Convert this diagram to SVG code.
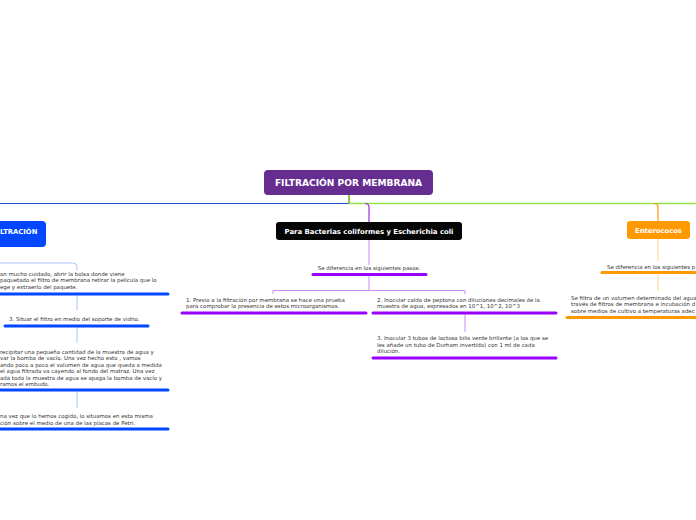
<svg xmlns="http://www.w3.org/2000/svg" width="696" height="520" viewBox="0 0 696 520">
<style>
.t{font-family:"DejaVu Sans","Liberation Sans",sans-serif;font-size:5.45px;fill:#333}
.b{font-family:"DejaVu Sans","Liberation Sans",sans-serif;font-weight:bold;fill:#fff}
.cb{fill:none;stroke:#a9c2ff;stroke-width:1}
.cp{fill:none;stroke:#c98cf7;stroke-width:1}
.co{fill:none;stroke:#ffcf8f;stroke-width:1}
.ub{stroke:#0047ff;stroke-width:3;stroke-linecap:round}
.up{stroke:#9900ff;stroke-width:3;stroke-linecap:round}
.uo{stroke:#ff9900;stroke-width:3;stroke-linecap:round}
</style>
<rect width="696" height="520" fill="#fff"/>
<g id="connectors">
<line x1="0" y1="203.5" x2="349" y2="203.5" stroke="#1d4fd6" stroke-width="1"/>
<line x1="349" y1="203.5" x2="696" y2="203.5" stroke="#95e34a" stroke-width="1.5"/>
<line x1="349" y1="195" x2="349" y2="203.5" stroke="#8cc63f" stroke-width="2"/>
<path d="M365,203.5 Q369,203.5 369,207 V222" fill="none" stroke="#9b30e0" stroke-width="1.2"/>
<path d="M654,203.5 Q658,203.5 658,207 V221" fill="none" stroke="#ff9900" stroke-width="1.2"/>
<path class="cp" d="M369,240 V265"/>
<path class="cp" d="M369,275 V290.5"/>
<path class="cp" d="M273,294 V290.5 H465 V294"/>
<path class="cp" d="M465,313 V332"/>
<path class="co" d="M658,239 V261"/>
<path class="co" d="M658,273 V291"/>
<path class="cb" d="M0,263 H73 Q77,263 77,267 V270"/>
<path class="cb" d="M77,294 V310"/>
<path class="cb" d="M77,326 V343"/>
<path class="cb" d="M77,390 V408"/>
</g>
<g id="root">
<rect x="264" y="170" width="169" height="25" rx="4" fill="#662d91"/>
<text class="b" x="348.5" y="186" font-size="9.1" text-anchor="middle">FILTRACIÓN POR MEMBRANA</text>
</g>
<g id="filtracion">
<rect x="-10" y="221" width="56" height="26" rx="4" fill="#0047ff"/>
<text class="b" x="0" y="233.5" font-size="6.8">LTRACIÓN</text>
</g>
<g id="l1">
<text class="t" x="0" y="275.5">on mucho cuidado, abrir la bolsa donde viene</text>
<text class="t" x="0" y="282">paquetado el filtro de membrana retirar la película que lo</text>
<text class="t" x="0" y="288.5">ege y extraerlo del paquete.</text>
<line class="ub" x1="0" y1="294" x2="168" y2="294"/>
</g>
<g id="l2">
<text class="t" x="9" y="321">3. Situar el filtro en medio del soporte de vidrio.</text>
<line class="ub" x1="5" y1="326" x2="148" y2="326"/>
</g>
<g id="l3">
<text class="t" x="0" y="353.5">recipitar una pequeña cantidad de la muestra de agua y</text>
<text class="t" x="0" y="360">var la bomba de vacío. Una vez hecho esto , vamos</text>
<text class="t" x="0" y="366.5">ando poco a poco el volumen de agua que queda a medida</text>
<text class="t" x="0" y="373">el agua filtrada va cayendo al fondo del matraz. Una vez</text>
<text class="t" x="0" y="379.5">ada toda la muestra de agua se apaga la bomba de vacío y</text>
<text class="t" x="0" y="386">ramos el embudo.</text>
<line class="ub" x1="0" y1="390" x2="168" y2="390"/>
</g>
<g id="l4">
<text class="t" x="0" y="418">na vez que lo hemos cogido, lo situamos en esta misma</text>
<text class="t" x="0" y="424.5">ción sobre el medio de una de las placas de Petri.</text>
<line class="ub" x1="0" y1="429" x2="168" y2="429"/>
</g>
<g id="bacterias">
<rect x="276" y="222" width="186" height="18" rx="3" fill="#050505"/>
<text class="b" x="369" y="233.5" font-size="6.9" text-anchor="middle">Para Bacterias coliformes y Escherichia coli</text>
</g>
<g id="pasos-c">
<text class="t" x="369" y="270" text-anchor="middle">Se diferencia en los siguientes pasos:</text>
<line class="up" x1="313" y1="274.5" x2="426" y2="274.5"/>
</g>
<g id="c1">
<text class="t" x="186" y="301.5">1. Previo a la filtración por membrana se hace una prueba</text>
<text class="t" x="186" y="308">para comprobar la presencia de estos microorganismos.</text>
<line class="up" x1="182" y1="313" x2="366" y2="313"/>
</g>
<g id="c2">
<text class="t" x="377" y="301.5">2. Inocular caldo de peptona con diluciones decimales de la</text>
<text class="t" x="377" y="308">muestra de agua, expresados en 10^1, 10^2, 10^3</text>
<line class="up" x1="373" y1="313" x2="556" y2="313"/>
</g>
<g id="c3">
<text class="t" x="377" y="340">3. Inocular 3 tubos de lactosa bilis verde brillante (a los que se</text>
<text class="t" x="377" y="346.5">les añade un tubo de Durham invertido) con 1 ml de cada</text>
<text class="t" x="377" y="353">dilución.</text>
<line class="up" x1="373" y1="358" x2="556" y2="358"/>
</g>
<g id="enterococos">
<rect x="627" y="221" width="63" height="18" rx="3" fill="#ff9900"/>
<text class="b" x="658.5" y="232.5" font-size="6.8" text-anchor="middle">Enterococos</text>
</g>
<g id="pasos-e">
<text class="t" x="607" y="268.5">Se diferencia en los siguientes p</text>
<line class="uo" x1="602" y1="272.5" x2="696" y2="272.5"/>
</g>
<g id="e1">
<text class="t" x="571" y="299.5">Se filtra de un volumen determinado del agua</text>
<text class="t" x="571" y="306">través de filtros de membrana e incubación d</text>
<text class="t" x="571" y="312.5">sobre medios de cultivo a temperaturas adec</text>
<line class="uo" x1="567" y1="317.5" x2="696" y2="317.5"/>
</g>
</svg>
